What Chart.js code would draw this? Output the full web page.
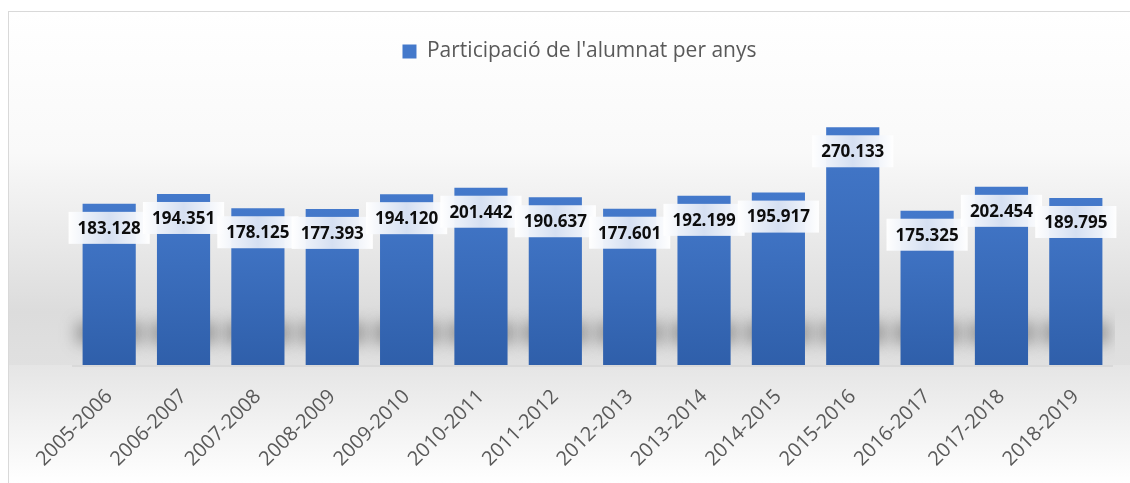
<!DOCTYPE html>
<html>
<head>
<meta charset="utf-8">
<script src="https://cdn.jsdelivr.net/npm/chart.js@4.4.0/dist/chart.umd.min.js"></script>
<style>
  html, body { margin: 0; padding: 0; background: #fff; }
  #wrap { width: 1130px; height: 483px; }
</style>
</head>
<body>
<div id="wrap"><canvas id="grafic" width="1130" height="483"></canvas></div>
<script>
// dades del gràfic
const cursos = ['2005-2006','2006-2007','2007-2008','2008-2009','2009-2010','2010-2011','2011-2012',
                '2012-2013','2013-2014','2014-2015','2015-2016','2016-2017','2017-2018','2018-2019'];
const alumnes = [183128, 194351, 178125, 177393, 194120, 201442, 190637,
                 177601, 192199, 195917, 270133, 175325, 202454, 189795];
const nomSerie = "Participació de l'alumnat per anys";

function fmt(n){
  return n.toString().replace(/\B(?=(\d{3})+(?!\d))/g, '.');
}

function colorBarra(c){
  const y = c.chart.scales && c.chart.scales.y;
  if(!y || typeof c.raw !== 'number') return '#3f70c0';
  const top = y.getPixelForValue(c.raw);
  const bot = y.getPixelForValue(0);
  if(!isFinite(top) || !isFinite(bot) || top === bot) return '#3f70c0';
  const g = c.chart.ctx.createLinearGradient(0, top, 0, bot);
  g.addColorStop(0, '#4479cb');
  g.addColorStop(1, '#2f5faa');
  return g;
}

const fons = {
  id: 'fons',
  beforeDraw(chart){
    const {ctx, chartArea, width, height} = chart;
    if(!chartArea) return;
    ctx.save();
    ctx.fillStyle = '#fff';
    ctx.fillRect(0, 0, width, height);
    let g = ctx.createLinearGradient(0, 11, 0, chartArea.bottom);
    g.addColorStop(0, '#ffffff');
    g.addColorStop(0.4, '#f9f9f9');
    g.addColorStop(0.85, '#dcdcdc');
    g.addColorStop(1, '#e0e0e0');
    ctx.fillStyle = g;
    ctx.fillRect(8, 11, width, chartArea.bottom - 11);
    g = ctx.createLinearGradient(0, chartArea.bottom, 0, height);
    g.addColorStop(0, '#e5e5e5');
    g.addColorStop(1, '#ffffff');
    ctx.fillStyle = g;
    ctx.fillRect(8, chartArea.bottom, width, height - chartArea.bottom);
    ctx.fillStyle = '#d9d9d9';
    ctx.fillRect(chartArea.left, chartArea.bottom, chartArea.width, 2);
    ctx.strokeStyle = '#d9d9d9';
    ctx.lineWidth = 1;
    ctx.strokeRect(8.5, 11.5, width + 10, height + 10);
    ctx.restore();
  }
};

const ombra = {
  id: 'ombra',
  beforeDatasetsDraw(chart){
    const {ctx, chartArea} = chart;
    const meta = chart.getDatasetMeta(0);
    const base = chartArea.bottom;
    ctx.save();
    ctx.beginPath();
    ctx.rect(chartArea.left - 30, chartArea.top, chartArea.width + 32, chartArea.height);
    ctx.clip();
    ctx.filter = 'blur(8px)';
    ctx.fillStyle = 'rgba(70,70,70,0.5)';
    meta.data.forEach(b => {
      ctx.fillRect(b.x - b.width/2 - 6, base - 42, b.width + 12, 20);
    });
    ctx.restore();
  }
};

const etiquetes = {
  id: 'etiquetes',
  afterDatasetsDraw(chart){
    const {ctx} = chart;
    const meta = chart.getDatasetMeta(0);
    ctx.save();
    ctx.font = 'bold 17px "Open Sans"';
    ctx.textAlign = 'center';
    ctx.textBaseline = 'middle';
    meta.data.forEach((b, i) => {
      const txt = fmt(alumnes[i]);
      const w = ctx.measureText(txt).width + 18, h = 32;
      const cx = b.x, cy = b.y + 24;
      const g = ctx.createLinearGradient(cx - w/2, 0, cx + w/2, 0);
      g.addColorStop(0, 'rgba(255,255,255,0.97)');
      g.addColorStop(0.5, 'rgba(218,227,243,0.97)');
      g.addColorStop(1, 'rgba(255,255,255,0.97)');
      ctx.fillStyle = g;
      ctx.fillRect(cx - w/2, cy - h/2, w, h);
      ctx.fillStyle = '#0d0d0d';
      ctx.fillText(txt, cx, cy + 1);
    });
    ctx.restore();
  }
};

const margeLlegenda = {
  id: 'margeLlegenda',
  beforeInit(chart){
    const fit = chart.legend.fit;
    chart.legend.fit = function(){
      fit.bind(chart.legend)();
      this.height += 29;
    };
  },
  afterLayout(chart){
    chart.legend.left -= 13;
    chart.legend.right -= 13;
  }
};

new Chart(document.getElementById('grafic'), {
  type: 'bar',
  data: {
    labels: cursos,
    datasets: [{
      label: nomSerie,
      data: alumnes,
      backgroundColor: colorBarra,
      borderWidth: 0,
      categoryPercentage: 1,
      barPercentage: 0.715
    }]
  },
  options: {
    responsive: false,
    animation: false,
    layout: {
      padding: { top: 31, left: 72, right: 17, bottom: 8 }
    },
    plugins: {
      legend: {
        position: 'top',
        labels: {
          color: '#595959',
          boxWidth: 14,
          boxHeight: 14,
          padding: 10,
          font: { family: '"Open Sans"', size: 21 }
        }
      },
      tooltip: { enabled: false }
    },
    scales: {
      x: {
        grid: { display: false },
        border: { display: false },
        afterFit(scale){ scale.height = 110; },
        ticks: {
          color: '#595959',
          minRotation: 45,
          maxRotation: 45,
          padding: 12,
          font: { family: '"Open Sans"', size: 20 }
        }
      },
      y: {
        display: false,
        min: 0,
        max: 300000
      }
    }
  },
  plugins: [fons, ombra, etiquetes, margeLlegenda]
});
</script>
</body>
</html>
